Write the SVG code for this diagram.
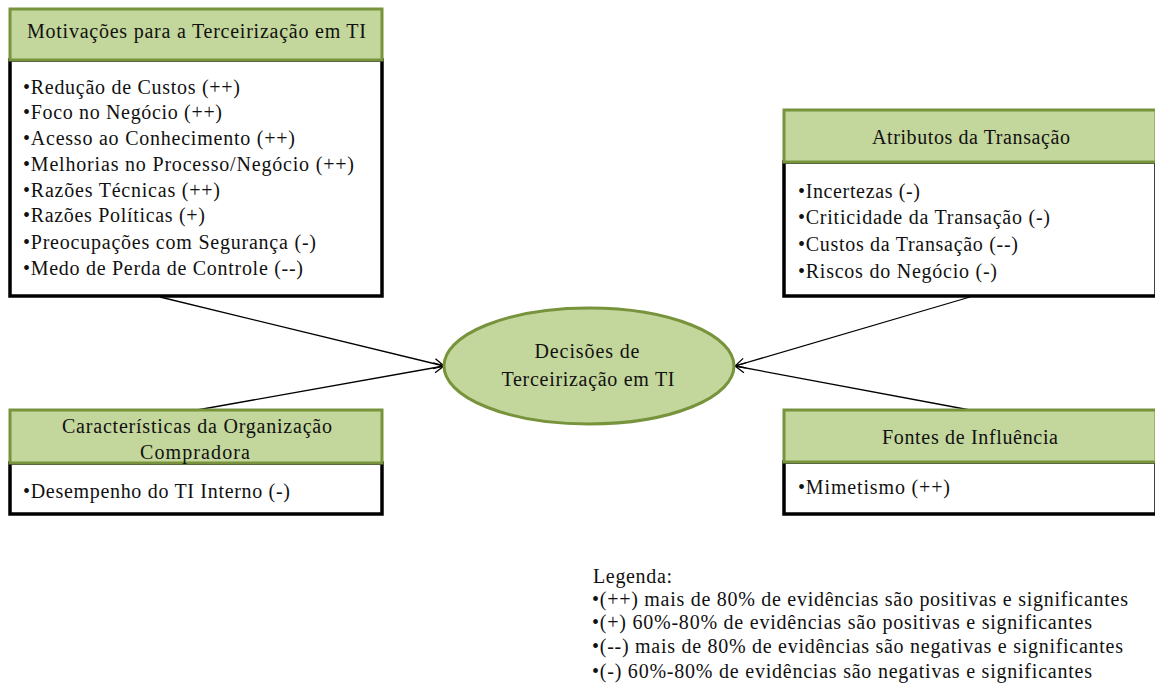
<svg xmlns="http://www.w3.org/2000/svg" width="1155" height="693" viewBox="0 0 1155 693" font-family="'Liberation Serif', serif" font-size="20">
<defs>
<style>
.hdr{fill:#C3D69B;stroke:#77933C;stroke-width:3}
.body{fill:#fff;stroke:#000;stroke-width:3.5}
text{fill:#111}
.c{text-anchor:middle}
.conn{stroke:#000;stroke-width:1.3;fill:none;marker-end:url(#arr)}
</style>
<marker id="arr" viewBox="0 0 12 12" refX="11" refY="6" markerWidth="12" markerHeight="12" markerUnits="userSpaceOnUse" orient="auto">
<path d="M1,1 L11,6 L1,11" fill="none" stroke="#000" stroke-width="1.3"/>
</marker>
</defs>
<rect width="1155" height="693" fill="#fff"/>
<g id="connectors">
<line class="conn" x1="160" y1="297" x2="444" y2="366"/>
<line class="conn" x1="197" y1="410" x2="444" y2="366"/>
<line class="conn" x1="970" y1="297" x2="735" y2="366"/>
<line class="conn" x1="970" y1="410" x2="735" y2="366"/>
</g>
<g id="motivacoes">
<rect class="body" x="10" y="60" width="372" height="236"/>
<rect class="hdr" x="10" y="9" width="372" height="51"/>
<text class="c" x="196.5" y="38" textLength="339" lengthAdjust="spacing">Motivações para a Terceirização  em TI</text>
<text x="23" y="94" textLength="217" lengthAdjust="spacing">•Redução de Custos (++)</text>
<text x="23" y="119" textLength="199" lengthAdjust="spacing">•Foco no Negócio (++)</text>
<text x="23" y="145" textLength="272" lengthAdjust="spacing">•Acesso ao Conhecimento (++)</text>
<text x="23" y="171" textLength="331" lengthAdjust="spacing">•Melhorias no Processo/Negócio (++)</text>
<text x="23" y="197" textLength="197" lengthAdjust="spacing">•Razões Técnicas (++)</text>
<text x="23" y="222" textLength="182" lengthAdjust="spacing">•Razões Políticas (+)</text>
<text x="23" y="249" textLength="293" lengthAdjust="spacing">•Preocupações com Segurança (-)</text>
<text x="23" y="275" textLength="280" lengthAdjust="spacing">•Medo de Perda de Controle (--)</text>
</g>
<g id="atributos">
<rect class="body" x="784" y="162" width="372" height="134"/>
<rect class="hdr" x="784" y="110" width="372" height="52"/>
<text class="c" x="971" y="144" textLength="198" lengthAdjust="spacing">Atributos da Transação</text>
<text x="798" y="198" textLength="122" lengthAdjust="spacing">•Incertezas (-)</text>
<text x="798" y="224" textLength="252" lengthAdjust="spacing">•Criticidade da Transação (-)</text>
<text x="798" y="251" textLength="220" lengthAdjust="spacing">•Custos da Transação (--)</text>
<text x="798" y="278" textLength="199" lengthAdjust="spacing">•Riscos do Negócio (-)</text>
</g>
<g id="caracteristicas">
<rect class="body" x="10" y="463" width="372" height="51"/>
<rect class="hdr" x="10" y="410" width="372" height="53"/>
<text class="c" x="197" y="433" textLength="270" lengthAdjust="spacing">Características da Organização</text>
<text class="c" x="195" y="459" textLength="110" lengthAdjust="spacing">Compradora</text>
<text x="23" y="498" textLength="267" lengthAdjust="spacing">•Desempenho do TI Interno (-)</text>
</g>
<g id="fontes">
<rect class="body" x="784" y="462" width="372" height="52"/>
<rect class="hdr" x="784" y="410" width="372" height="52"/>
<text class="c" x="970" y="444" textLength="176" lengthAdjust="spacing">Fontes de Influência</text>
<text x="798" y="494" textLength="152" lengthAdjust="spacing">•Mimetismo (++)</text>
</g>
<g id="decisoes">
<ellipse cx="589" cy="366" rx="145" ry="58" fill="#C3D69B" stroke="#77933C" stroke-width="3"/>
<text class="c" x="587" y="358" textLength="105" lengthAdjust="spacing">Decisões de</text>
<text class="c" x="588" y="386" textLength="173" lengthAdjust="spacing">Terceirização  em TI</text>
</g>
<g id="legenda">
<text x="593" y="583" textLength="79" lengthAdjust="spacing">Legenda:</text>
<text x="592" y="606" textLength="536" lengthAdjust="spacing">•(++) mais de 80% de evidências são positivas e significantes</text>
<text x="592" y="629" textLength="500" lengthAdjust="spacing">•(+) 60%-80% de evidências são positivas e significantes</text>
<text x="592" y="653" textLength="531" lengthAdjust="spacing">•(--) mais de 80% de evidências são negativas e significantes</text>
<text x="592" y="678" textLength="500" lengthAdjust="spacing">•(-) 60%-80% de evidências são negativas e significantes</text>
</g>
</svg>
